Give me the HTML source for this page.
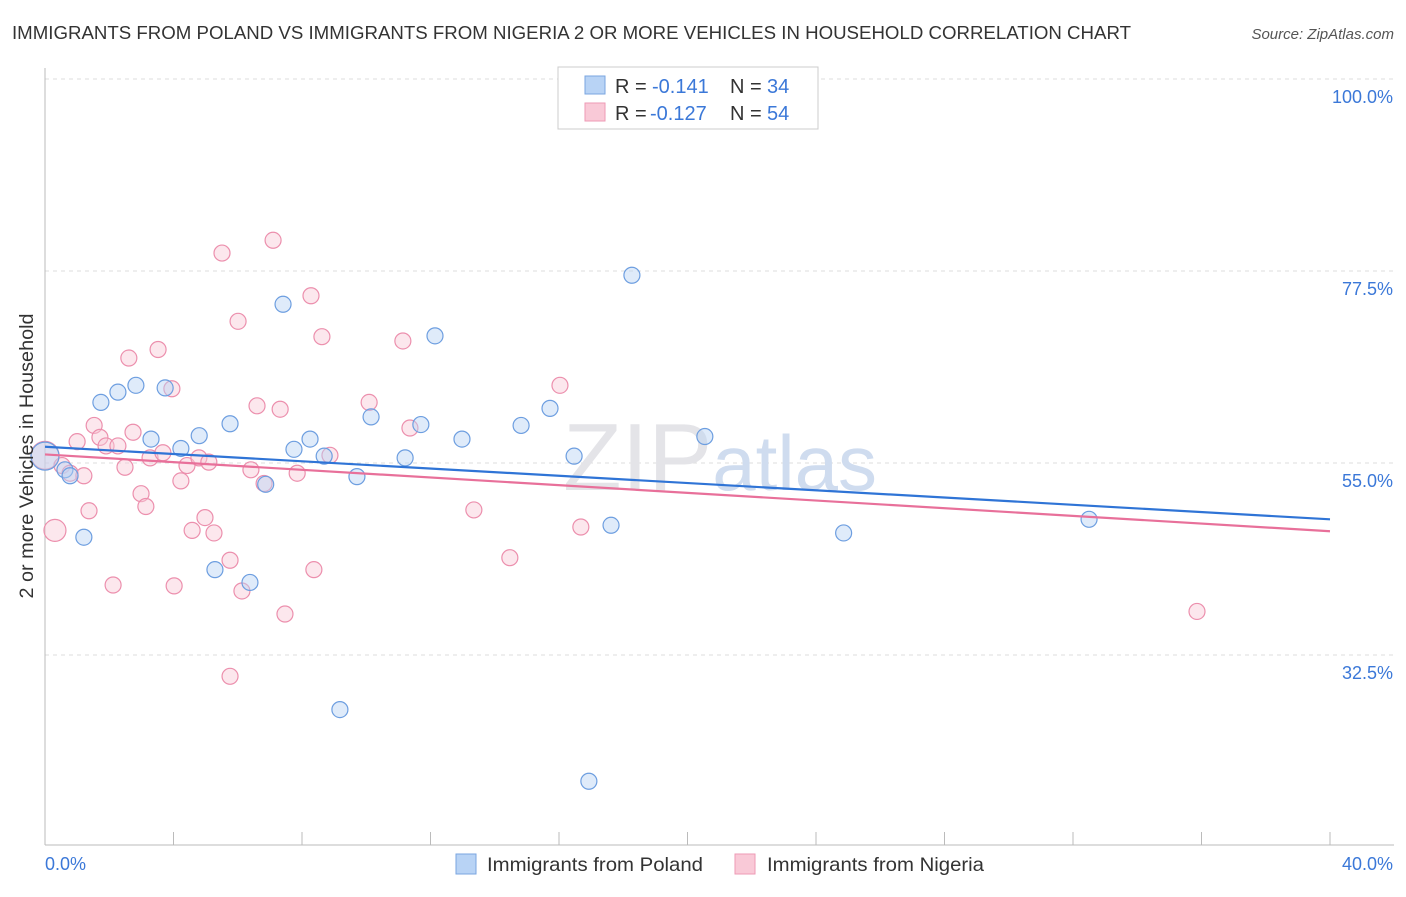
<!DOCTYPE html>
<html><head><meta charset="utf-8">
<style>
body{margin:0;background:#fff;font-family:"Liberation Sans",sans-serif;}
svg text{font-family:"Liberation Sans",sans-serif;}
</style></head>
<body>
<svg id="chart" width="1406" height="892" viewBox="0 0 1406 892" xmlns="http://www.w3.org/2000/svg">
<text x="12" y="39" font-size="18" fill="#333" textLength="1119" lengthAdjust="spacingAndGlyphs">IMMIGRANTS FROM POLAND VS IMMIGRANTS FROM NIGERIA 2 OR MORE VEHICLES IN HOUSEHOLD CORRELATION CHART</text>
<text x="1394" y="39" font-size="15" fill="#555" text-anchor="end" font-style="italic">Source: ZipAtlas.com</text>
<g id="grid"></g>
<text x="720" y="490" font-size="96" text-anchor="middle" fill="#e4e4e8" font-family="Liberation Serif">ZIP<tspan fill="#cfdcef" font-family="Liberation Sans" font-size="78">atlas</tspan></text>
<g id="pts"></g>
<g id="lines"></g>
<text transform="translate(33,456) rotate(-90)" font-size="19" fill="#333" text-anchor="middle" textLength="285" lengthAdjust="spacingAndGlyphs">2 or more Vehicles in Household</text>
<g>
<rect x="558" y="67" width="260" height="62" fill="#fff" stroke="#ccc"/>
<rect x="585" y="76" width="20" height="18" fill="#b8d3f5" stroke="#7aa6e0"/>
<text x="615" y="93" font-size="20" fill="#333">R =</text>
<text x="652" y="93" font-size="20" fill="#3b78d8">-0.141</text>
<text x="730" y="93" font-size="20" fill="#333">N =</text>
<text x="767" y="93" font-size="20" fill="#3b78d8">34</text>
<rect x="585" y="103" width="20" height="18" fill="#f9c9d7" stroke="#ee9ab4"/>
<text x="615" y="120" font-size="20" fill="#333">R =</text>
<text x="650" y="120" font-size="20" fill="#3b78d8">-0.127</text>
<text x="730" y="120" font-size="20" fill="#333">N =</text>
<text x="767" y="120" font-size="20" fill="#3b78d8">54</text>
</g>
<g>
<rect x="456" y="854" width="20" height="20" fill="#b8d3f5" stroke="#7aa6e0"/>
<text x="487" y="871" font-size="19.5" fill="#333" textLength="216" lengthAdjust="spacingAndGlyphs">Immigrants from Poland</text>
<rect x="735" y="854" width="20" height="20" fill="#f9c9d7" stroke="#ee9ab4"/>
<text x="767" y="871" font-size="19.5" fill="#333" textLength="217" lengthAdjust="spacingAndGlyphs">Immigrants from Nigeria</text>
</g>
</svg>
<script>
const yTicks=[100,77.5,55,32.5];
const yTickLabels=["100.0%","77.5%","55.0%","32.5%"];
const xTickLabels=["0.0%","40.0%"];
const polandX=[0,0.62,0.78,1.21,1.74,2.27,2.83,3.3,3.74,4.23,4.8,5.29,5.76,6.38,6.87,7.41,7.75,8.25,8.69,9.18,9.71,10.15,11.21,11.7,12.14,12.98,14.82,15.72,16.47,16.93,17.62,18.27,20.54,24.86,32.5];
const polandY=[55.8,54.2,53.5,46.3,62.1,63.3,64.1,57.8,63.8,56.7,58.2,42.5,59.6,41.0,52.5,73.6,56.6,57.8,55.8,26.1,53.4,60.4,55.6,59.5,69.9,57.8,59.4,61.4,55.8,17.7,47.7,77.0,58.1,46.8,48.4];
const nigeriaX=[0,0.31,0.53,0.78,1.0,1.21,1.37,1.53,1.71,1.9,2.12,2.27,2.49,2.61,2.74,2.99,3.14,3.27,3.52,3.67,3.95,4.02,4.23,4.42,4.58,4.79,4.98,5.1,5.26,5.51,5.76,6.01,6.13,6.41,6.6,6.82,7.1,7.32,7.47,7.85,8.28,8.37,8.62,8.87,10.09,11.14,11.36,13.35,14.47,16.03,16.68,35.86,5.76];
const nigeriaY=[55.9,47.1,54.7,53.8,57.5,53.5,49.4,59.4,58.0,57.0,40.7,57.0,54.5,67.3,58.6,51.4,49.9,55.6,68.3,56.2,63.7,40.6,52.9,54.7,47.1,55.6,48.6,55.1,46.8,79.6,43.6,71.6,40.0,54.2,61.7,52.6,81.1,61.3,37.3,53.8,74.6,42.5,69.8,55.9,62.1,69.3,59.1,49.5,43.9,64.1,47.5,37.6,30.0];
const trendPoland=[56.9,48.4];
const trendNigeria=[56.0,47.0];
const X=v=>45+v*32.125, Y=v=>79+(100-v)*8.533;
const NS="http://www.w3.org/2000/svg";
function mk(t,a,p){const e=document.createElementNS(NS,t);for(const k in a)e.setAttribute(k,a[k]);p.appendChild(e);return e;}
const grid=document.getElementById('grid');
yTicks.forEach((t,i)=>{
 const l=mk('line',{x1:45,x2:1394,y1:Y(t),y2:Y(t),stroke:'#ddd','stroke-dasharray':'4,4'},grid);
 
 
 const tx=mk('text',{x:1393,y:Y(t)+24,'font-size':18,fill:'#3b78d8','text-anchor':'end'},grid);
 tx.textContent=yTickLabels[i];
 
 
});
const ax=mk('line',{x1:45,x2:45,y1:68,y2:845,stroke:'#bbb'},grid);


const bx=mk('line',{x1:45,x2:1394,y1:845,y2:845,stroke:'#bbb'},grid);


for(let i=0;i<=10;i++){const t=mk('line',{x1:X(i*4),x2:X(i*4),y1:832,y2:845,stroke:'#bbb'},grid);
 
 }
[[0,45,'start'],[40,1393,'end']].forEach((d,i)=>{const t=mk('text',{x:d[1],y:870,'font-size':18,fill:'#3b78d8','text-anchor':d[2]},grid);t.textContent=xTickLabels[i];
 
 });
const pts=document.getElementById('pts');
function drawPts(xs,ys,fill,stroke,name){xs.forEach((x,i)=>{
 const r=(i===0)?14:(name==='nigeria-point'&&i===1?11:8);
 const c=mk('circle',{cx:X(x),cy:Y(ys[i]),r:r,fill:fill,'fill-opacity':0.45,stroke:stroke,'stroke-width':1.2},pts);
 
 });}
drawPts(nigeriaX,nigeriaY,'#f9c9d7','#ec8fad','nigeria-point');
drawPts(polandX,polandY,'#b8d3f5','#6d9ee0','poland-point');
const lines=document.getElementById('lines');
const l1=mk('line',{x1:X(0),x2:X(40),y1:Y(trendPoland[0]),y2:Y(trendPoland[1]),stroke:'#2f74d6','stroke-width':2.2},lines);


const l2=mk('line',{x1:X(0),x2:X(40),y1:Y(trendNigeria[0]),y2:Y(trendNigeria[1]),stroke:'#e8709a','stroke-width':2.2},lines);


</script>
</body></html>
